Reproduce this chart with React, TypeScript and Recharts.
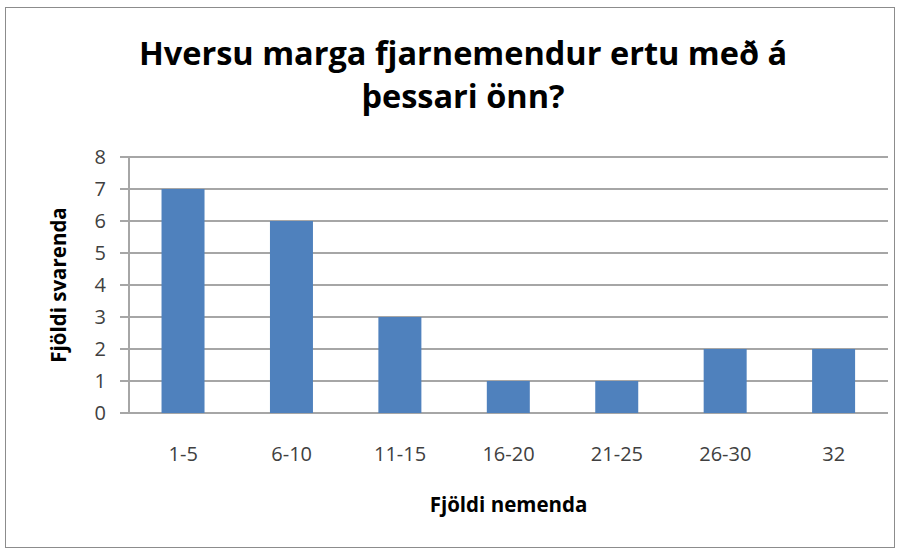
import { BarChart, Bar, XAxis, YAxis, CartesianGrid, Label } from 'recharts'

const categories = ['1-5', '6-10', '11-15', '16-20', '21-25', '26-30', '32']
const responses = [7, 6, 3, 1, 1, 2, 2]
const yTicks = [0, 1, 2, 3, 4, 5, 6, 7, 8]
const titleLines = ['Hversu marga fjarnemendur ertu með á', 'þessari önn?']

const data = categories.map((label, i) => ({ label, value: responses[i] }))
// tick marks sit on the category boundaries, like Excel
const edgeTicks = Array.from({ length: categories.length + 1 }, (_, i) => i)

const FONT = '"Open Sans", Calibri, "Liberation Sans", sans-serif'
const AXIS_GRAY = '#a6a6a6'
const TEXT_GRAY = '#404040'

export default function App() {
  return (
    <div
      style={{
        position: 'absolute', left: 5, top: 7, width: 888, height: 539,
        border: '1px solid #8c8c8c', background: '#fff', fontFamily: FONT,
      }}
    >
      {/* Title */}
      {titleLines.map((t, i) => (
        <div
          key={i}
          style={{
            position: 'absolute', left: 0, width: 914, top: 23 + i * 43, textAlign: 'center',
            fontSize: 32.5, fontWeight: 700, color: '#000', lineHeight: '44px',
          }}
        >
          {t}
        </div>
      ))}

      <BarChart
        width={888}
        height={539}
        data={data}
        margin={{ top: 149, right: 6, bottom: 10, left: 40 }}
        barCategoryGap="30%"
        style={{ position: 'absolute', left: 0, top: 0 }}
      >
        <CartesianGrid vertical={false} stroke={AXIS_GRAY} strokeWidth={2} yAxisId="y" xAxisId="cats" />
        <YAxis
          yAxisId="y"
          domain={[0, 8]}
          ticks={yTicks}
          width={83}
          tickSize={9}
          tickMargin={14}
          stroke={AXIS_GRAY}
          strokeWidth={2}
          tick={{ fill: TEXT_GRAY, fontSize: 20, fontFamily: FONT }}
        >
          <Label
            value="Fjöldi svarenda"
            angle={-90}
            position="insideLeft"
            offset={13}
            style={{ textAnchor: 'middle', fontWeight: 700, fontSize: 20.5, fill: '#000', fontFamily: FONT }}
          />
        </YAxis>
        <XAxis
          xAxisId="edges"
          type="number"
          domain={[0, categories.length]}
          allowDataOverflow
          ticks={edgeTicks}
          tick={false}
          height={0}
          tickSize={9}
          stroke={AXIS_GRAY}
          strokeWidth={2}
        />
        <XAxis
          xAxisId="cats"
          dataKey="label"
          height={124}
          axisLine={false}
          tickLine={false}
          tickSize={0}
          tickMargin={34}
          tick={{ fill: TEXT_GRAY, fontSize: 20, fontFamily: FONT }}
        >
          <Label
            value="Fjöldi nemenda"
            position="insideBottom"
            offset={25}
            style={{ fontWeight: 700, fontSize: 20.5, fill: '#000', fontFamily: FONT }}
          />
        </XAxis>
        <Bar dataKey="value" xAxisId="cats" yAxisId="y" fill="#4f81bd" isAnimationActive={false} />
      </BarChart>
    </div>
  )
}
